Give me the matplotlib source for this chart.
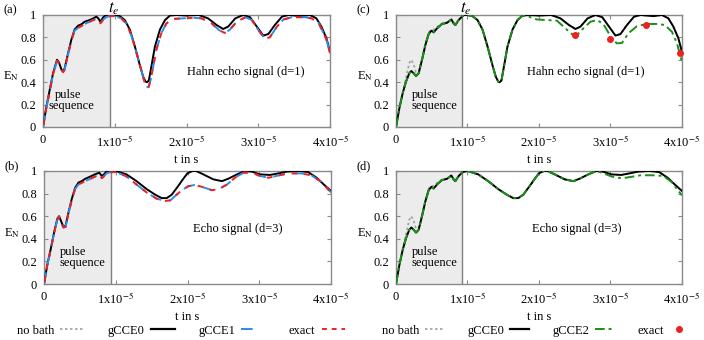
import numpy as np
import matplotlib
matplotlib.use("Agg")
from matplotlib import pyplot as plt
from matplotlib.lines import Line2D

plt.rcParams['font.family'] = ['Liberation Serif', 'DejaVu Serif']
plt.rcParams['mathtext.fontset'] = 'stix'
plt.rcParams['font.size'] = 9

# time in units of 1e-5 s
T_E = 0.93

# ---- pulse part, panels (a) and (b) ----
tp_a = [0, 0.047, 0.093, 0.14, 0.195, 0.22, 0.256, 0.28, 0.30, 0.35, 0.395, 0.44,
        0.49, 0.535, 0.58, 0.65, 0.70, 0.744, 0.77, 0.80, 0.84, 0.88, 0.93]
cce0_pa = [0, 0.18, 0.33, 0.48, 0.60, 0.58, 0.515, 0.50, 0.52, 0.66, 0.78, 0.87,
           0.905, 0.917, 0.94, 0.955, 0.97, 0.985, 0.97, 0.94, 0.98, 1.0, 1.0]
exact_pa = [0, 0.17, 0.32, 0.47, 0.59, 0.575, 0.51, 0.49, 0.51, 0.65, 0.77, 0.86,
            0.885, 0.90, 0.92, 0.94, 0.955, 0.965, 0.955, 0.925, 0.96, 0.98, 0.99]

tp_b = [0, 0.047, 0.093, 0.14, 0.186, 0.21, 0.237, 0.27, 0.30, 0.34, 0.386, 0.433,
        0.48, 0.526, 0.572, 0.642, 0.71, 0.77, 0.805, 0.837, 0.874, 0.93]
cce0_pb = [0, 0.174, 0.307, 0.454, 0.578, 0.60, 0.558, 0.507, 0.513, 0.63, 0.75, 0.85,
           0.897, 0.91, 0.93, 0.95, 0.97, 0.985, 0.956, 0.97, 1.0, 1.0]
exact_pb = [0, 0.17, 0.30, 0.45, 0.57, 0.595, 0.55, 0.50, 0.505, 0.62, 0.74, 0.84,
            0.88, 0.895, 0.91, 0.93, 0.95, 0.97, 0.935, 0.955, 0.98, 0.99]

# ---- pulse part, panels (c) and (d) ----
tp_c = [0, 0.047, 0.093, 0.14, 0.186, 0.214, 0.247, 0.28, 0.317, 0.364, 0.41, 0.457,
        0.494, 0.527, 0.573, 0.643, 0.713, 0.774, 0.807, 0.83, 0.876, 0.93]
cce0_pc = [0, 0.167, 0.30, 0.405, 0.48, 0.50, 0.48, 0.455, 0.48, 0.60, 0.73, 0.83,
           0.86, 0.845, 0.88, 0.92, 0.93, 0.96, 0.925, 0.91, 0.955, 0.99]
nobath_pc = [0, 0.17, 0.31, 0.44, 0.57, 0.60, 0.56, 0.49, 0.50, 0.61, 0.74, 0.845,
             0.865, 0.87, 0.895, 0.925, 0.935, 0.96, 0.925, 0.91, 0.955, 0.99]

# ---- after t_e, Hahn echo (d=1) ----
t_h = [0.95, 1.0, 1.07, 1.14, 1.21, 1.28, 1.35, 1.395, 1.43, 1.45, 1.475, 1.51, 1.56,
       1.63, 1.70, 1.77, 1.86, 2.0, 2.17, 2.30, 2.42, 2.51, 2.58, 2.68, 2.79, 2.885,
       2.98, 3.07, 3.14, 3.23, 3.33, 3.42, 3.6, 3.72, 3.81, 3.88, 3.95, 4.0]
cce0_h = [1.0, 1.0, 0.99, 0.955, 0.87, 0.72, 0.55, 0.45, 0.405, 0.40, 0.415, 0.54, 0.72,
          0.87, 0.955, 0.995, 1.0, 0.995, 1.0, 0.97, 0.91, 0.875, 0.896, 0.97, 1.0, 0.98,
          0.896, 0.816, 0.83, 0.91, 0.985, 1.0, 0.99, 1.0, 0.97, 0.896, 0.792, 0.67]

t_hx = [1.0, 1.09, 1.16, 1.23, 1.30, 1.37, 1.41, 1.44, 1.47, 1.50, 1.53, 1.58, 1.65,
        1.72, 1.81, 1.95, 2.1, 2.21, 2.35, 2.45, 2.53, 2.6, 2.70, 2.82, 2.91, 3.0, 3.09,
        3.16, 3.26, 3.35, 3.47, 3.65, 3.74, 3.84, 3.9, 3.95, 4.0]
exact_h = [0.99, 0.97, 0.925, 0.82, 0.67, 0.51, 0.41, 0.36, 0.355, 0.42, 0.52, 0.69, 0.84,
           0.925, 0.965, 0.97, 0.975, 0.97, 0.926, 0.866, 0.84, 0.866, 0.94, 0.98, 0.955,
           0.866, 0.79, 0.80, 0.896, 0.96, 0.98, 0.98, 0.97, 0.93, 0.85, 0.78, 0.66]

t_hg = [1.86, 1.97, 2.11, 2.25, 2.37, 2.46, 2.53, 2.62, 2.72, 2.81, 2.9, 3.02, 3.09,
        3.16, 3.25, 3.37, 3.51, 3.67, 3.76, 3.86, 3.93, 4.0]
cce2_h = [0.985, 0.96, 0.955, 0.95, 0.88, 0.83, 0.82, 0.88, 0.94, 0.955, 0.92, 0.79,
          0.747, 0.75, 0.836, 0.9, 0.92, 0.92, 0.91, 0.85, 0.747, 0.583]

t_dots = [2.5, 3.0, 3.5, 3.97]
exact_dots = [0.82, 0.785, 0.91, 0.665]

# ---- after t_e, echo (d=3) ----
t_e3 = [1.0, 1.15, 1.29, 1.43, 1.55, 1.64, 1.71, 1.78, 1.87, 1.94, 2.0, 2.07, 2.12,
        2.22, 2.36, 2.48, 2.57, 2.69, 2.8, 2.9, 3.01, 3.15, 3.27, 3.38, 3.54, 3.68,
        3.8, 3.9, 4.0]
cce0_e3 = [1.0, 0.97, 0.91, 0.84, 0.79, 0.76, 0.76, 0.79, 0.867, 0.93, 0.98, 1.0, 1.0,
           0.97, 0.926, 0.91, 0.932, 0.97, 1.0, 0.994, 0.97, 0.965, 0.979, 0.994, 1.0,
           0.991, 0.94, 0.88, 0.823]

t_e3x = [1.0, 1.14, 1.29, 1.43, 1.57, 1.69, 1.76, 1.83, 1.92, 2.01, 2.1, 2.2, 2.34,
         2.43, 2.55, 2.66, 2.78, 2.9, 3.01, 3.13, 3.24, 3.4, 3.59, 3.73, 3.85, 3.94, 4.0]
exact_e3 = [0.99, 0.956, 0.88, 0.81, 0.755, 0.735, 0.74, 0.78, 0.83, 0.865, 0.876, 0.86,
            0.83, 0.838, 0.88, 0.94, 0.985, 0.985, 0.956, 0.94, 0.956, 0.979, 0.979,
            0.96, 0.91, 0.85, 0.81]

t_e3g = [2.9, 3.02, 3.16, 3.28, 3.42, 3.6, 3.74, 3.86, 3.95, 4.0]
cce2_e3 = [0.98, 0.95, 0.935, 0.947, 0.962, 0.962, 0.956, 0.9, 0.823, 0.785]

xticks = [0, 1, 2, 3, 4]
xticklabels = ['0', r'1x10$^{-5}$', r'2x10$^{-5}$', r'3x10$^{-5}$', r'4x10$^{-5}$']
yticks = [0, 0.2, 0.4, 0.6, 0.8, 1.0]
yticklabels = ['0', '0.2', '0.4', '0.6', '0.8', '1']

C_GRAY = '#a0a0a0'
C_BLUE = '#2a8cf0'
C_RED = '#f02020'
C_GREEN = '#1a8f1a'
FRAME = '#8a8a8a'


def cat(*parts):
    return np.concatenate([np.asarray(p, float) for p in parts])


def frame(ax, text, tx, letter, pulse_pos):
    ax.axvspan(0, T_E, color='#ececec', zorder=0, lw=0)
    ax.axvline(T_E, color='#808080', lw=1.0, zorder=1)
    ax.set_xlim(0, 4)
    ax.set_ylim(0, 1)
    ax.set_xticks(xticks)
    ax.set_xticklabels(xticklabels)
    ax.set_yticks(yticks)
    ax.set_yticklabels(yticklabels)
    ax.tick_params(direction='in', length=3, color=FRAME, top=True, right=True, pad=5)
    for s in ax.spines.values():
        s.set_color(FRAME)
        s.set_linewidth(1.0)
    ax.set_xlabel('t in s', labelpad=3)
    ax.set_ylabel(r'E$_\mathrm{N}$', rotation=0, va='center', ha='center')
    ax.yaxis.set_label_coords(-0.11, 0.45)
    ax.text(tx, 0.49, text, ha='center', va='center')
    for (x, y, s) in pulse_pos:
        ax.text(x, y, s, ha='left', va='center')
    ax.figure.text(ax.get_position().x0 - 0.056, ax.get_position().y1 + 0.015, letter,
                   ha='left', va='center')


fig = plt.figure(figsize=(7.04, 3.4), dpi=100)
ax_a = fig.add_axes([0.0611, 0.6265, 0.4077, 0.3294])
ax_b = fig.add_axes([0.0625, 0.1647, 0.4077, 0.3324])
ax_c = fig.add_axes([0.5625, 0.6265, 0.4062, 0.3294])
ax_d = fig.add_axes([0.5625, 0.1647, 0.4062, 0.3324])

pulse_a = [(0.17, 0.285, 'pulse'), (0.07, 0.19, 'sequence')]
pulse_l = [(0.22, 0.285, 'pulse'), (0.22, 0.19, 'sequence')]

# (a)
ta = cat(tp_a, t_h)
tax = cat(tp_a, t_hx)
ax_a.plot(ta, cat(cce0_pa, cce0_h), color='black', lw=1.4, zorder=3)
ax_a.plot(tax, cat(exact_pa, exact_h), color=C_BLUE, lw=1.4, ls=(0, (6, 4)), zorder=4)
ax_a.plot(tax, cat(exact_pa, exact_h), color=C_RED, lw=1.4, ls=(5.5, (3, 3.5)), zorder=5)
frame(ax_a, 'Hahn echo signal (d=1)', 2.82, '(a)', pulse_a)

# (b)
tb = cat(tp_b, t_e3)
tbx = cat(tp_b, t_e3x)
ax_b.plot(tb, cat(cce0_pb, cce0_e3), color='black', lw=1.4, zorder=3)
ax_b.plot(tbx, cat(exact_pb, exact_e3), color=C_BLUE, lw=1.4, ls=(0, (6, 4)), zorder=4)
ax_b.plot(tbx, cat(exact_pb, exact_e3), color=C_RED, lw=1.4, ls=(5.5, (3, 3.5)), zorder=5)
frame(ax_b, 'Echo signal (d=3)', 2.7, '(b)', pulse_l)

# (c)
tc = cat(tp_c, t_h)
h_black = np.asarray(cce0_h)
t_h_arr = np.asarray(t_h)
keep = t_h_arr < t_hg[0]
tcg = cat(tp_c, t_h_arr[keep], t_hg)
ax_c.plot(tc, cat(nobath_pc, cce0_h), color=C_GRAY, lw=1.2, ls=(0, (1.5, 1.5)), zorder=2)
ax_c.plot(tc, cat(cce0_pc, cce0_h), color='black', lw=1.4, zorder=3)
ax_c.plot(tcg, cat(cce0_pc, h_black[keep], cce2_h), color=C_GREEN, lw=1.4,
          ls=(0, (5, 2, 1.5, 2)), zorder=4)
ax_c.plot(t_dots, exact_dots, 'o', color=C_RED, ms=4, zorder=6, clip_on=False)
frame(ax_c, 'Hahn echo signal (d=1)', 2.66, '(c)', pulse_l)

# (d)
td = cat(tp_c, t_e3)
e3_black = np.asarray(cce0_e3)
t_e3_arr = np.asarray(t_e3)
keep3 = t_e3_arr < t_e3g[0]
tdg = cat(tp_c, t_e3_arr[keep3], t_e3g)
ax_d.plot(td, cat(nobath_pc, cce0_e3), color=C_GRAY, lw=1.2, ls=(0, (1.5, 1.5)), zorder=2)
ax_d.plot(td, cat(cce0_pc, cce0_e3), color='black', lw=1.4, zorder=3)
ax_d.plot(tdg, cat(cce0_pc, e3_black[keep3], cce2_e3), color=C_GREEN, lw=1.4,
          ls=(0, (5, 2, 1.5, 2)), zorder=4)
frame(ax_d, 'Echo signal (d=3)', 2.53, '(d)', pulse_l)

# t_e marks above the top panels
fig.text(114 / 704, 0.997, r'$t_e$', ha='center', va='top', fontsize=12)
fig.text(466 / 704, 0.997, r'$t_e$', ha='center', va='top', fontsize=12)

# legends
h_nobath = Line2D([], [], color=C_GRAY, lw=1.2, ls=(0, (1.5, 1.5)))
h_cce0 = Line2D([], [], color='black', lw=1.6)
h_cce1 = Line2D([], [], color=C_BLUE, lw=1.4, ls=(0, (6, 7)))
h_exact = Line2D([], [], color=C_RED, lw=1.4, ls=(0, (2.5, 2.5)))
h_cce2 = Line2D([], [], color=C_GREEN, lw=1.4, ls=(0, (5, 2, 1.5, 2)))
h_dot = Line2D([], [], color=C_RED, marker='o', ms=4, ls='none')

leg_kw = dict(ncol=4, markerfirst=False, frameon=False,
              columnspacing=1.9, handletextpad=0.5, loc='center', fontsize=9,
              borderaxespad=0, borderpad=0)
fig.legend([h_nobath, h_cce0, h_cce1, h_exact], ['no bath', 'gCCE0', 'gCCE1', 'exact'],
           bbox_to_anchor=(181 / 704, 0.027), handlelength=1.9, **leg_kw)
fig.legend([h_nobath, h_cce0, h_cce2, h_dot], ['no bath', 'gCCE0', 'gCCE2', 'exact'],
           bbox_to_anchor=(535 / 704, 0.027), handlelength=1.45, **leg_kw)

fig.savefig('out.png', dpi=100)
